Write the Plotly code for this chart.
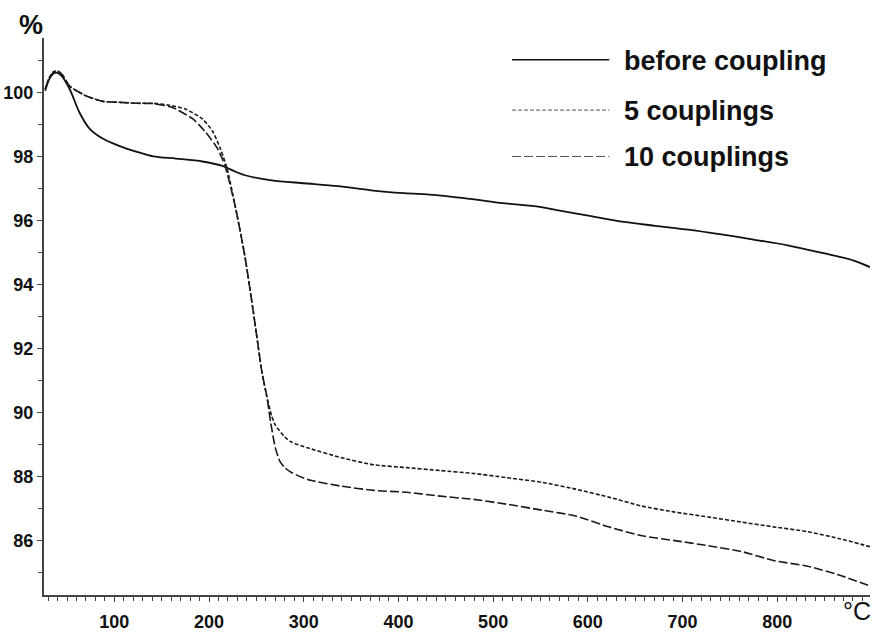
import plotly.graph_objects as go

# ---- data (temperature in °C, mass in %) ----
t_before = [27, 31, 35, 39, 44, 53, 63, 74, 88, 105, 123, 141, 165, 193, 214, 228, 238, 266, 301,
            336, 371, 406, 440, 476, 510, 549, 566, 602, 636, 671, 706, 741, 775, 811, 845, 880, 898]
w_before = [100.05, 100.4, 100.57, 100.62, 100.52, 100.09, 99.38, 98.86, 98.55, 98.33, 98.15, 98.0,
            97.93, 97.84, 97.7, 97.52, 97.41, 97.25, 97.16, 97.07, 96.94, 96.85, 96.79, 96.67,
            96.54, 96.42, 96.33, 96.14, 95.96, 95.83, 95.71, 95.56, 95.4, 95.22, 95.0, 94.75, 94.54]

t_5 = [27, 31, 35, 39, 44, 53, 71, 88, 105, 123, 141, 158, 175, 193, 204, 212, 219, 228, 238, 247,
       256, 261, 266, 270, 280, 287, 304, 340, 374, 409, 444, 479, 514, 552, 587, 622, 657, 692,
       727, 762, 796, 832, 866, 898]
w_5 = [100.1, 100.45, 100.63, 100.68, 100.6, 100.19, 99.88, 99.72, 99.69, 99.66, 99.66, 99.6,
       99.48, 99.17, 98.77, 98.24, 97.62, 96.39, 94.85, 93.09, 91.23, 90.5, 89.9, 89.6, 89.23,
       89.07, 88.89, 88.58, 88.36, 88.27, 88.18, 88.09, 87.96, 87.81, 87.6, 87.35, 87.07, 86.88,
       86.73, 86.57, 86.42, 86.27, 86.05, 85.8]

t_10 = [27, 31, 35, 39, 44, 53, 71, 88, 105, 123, 141, 158, 165, 183, 196, 209, 217, 228, 238, 247,
        256, 261, 265, 270, 275, 280, 287, 304, 340, 374, 409, 444, 479, 514, 552, 587, 622, 657,
        692, 727, 762, 796, 832, 866, 898]
w_10 = [100.1, 100.43, 100.6, 100.65, 100.58, 100.19, 99.88, 99.72, 99.69, 99.66, 99.65, 99.56,
        99.48, 99.17, 98.77, 98.24, 97.69, 96.39, 94.85, 93.09, 91.23, 90.5, 89.7, 88.89, 88.46,
        88.27, 88.12, 87.9, 87.69, 87.56, 87.5, 87.38, 87.28, 87.13, 86.94, 86.76, 86.42, 86.14,
        85.99, 85.83, 85.65, 85.37, 85.19, 84.91, 84.57]

series_names = ["before coupling", "5 couplings", "10 couplings"]
y_ticks = [86, 88, 90, 92, 94, 96, 98, 100]
x_ticks = [100, 200, 300, 400, 500, 600, 700, 800]

FONT = "Liberation Sans, Arial, sans-serif"
INK = "#111111"

fig = go.Figure()
fig.add_trace(go.Scatter(x=t_before, y=w_before, mode="lines", name=series_names[0],
                         line=dict(color=INK, width=1.8, shape="spline", smoothing=0.8)))
fig.add_trace(go.Scatter(x=t_5, y=w_5, mode="lines", name=series_names[1],
                         line=dict(color="#1a1a1a", width=1.6, dash="4px,2px", shape="spline", smoothing=0.6)))
fig.add_trace(go.Scatter(x=t_10, y=w_10, mode="lines", name=series_names[2],
                         line=dict(color="#1a1a1a", width=1.6, dash="9px,3px", shape="spline", smoothing=0.6)))

# ---- legend drawn as lines + text (long samples as in the original) ----
PL, PR, PT, PB = 37, 870, 38, 602
def px_x(p):
    return (p - PL) / (PR - PL)
def px_y(p):
    return (PB - p) / (PB - PT)

legend_rows = [(60, None, 1.5, INK), (111, "4px,2px", 1.0, "#555555"), (158, "9px,3px", 1.0, "#555555")]
for (ly, dash, w, c), name in zip(legend_rows, series_names):
    fig.add_shape(type="line", xref="paper", yref="paper",
                  x0=px_x(509), x1=px_x(607), y0=px_y(ly), y1=px_y(ly),
                  line=dict(color=c, width=w, dash=dash if dash else "solid"))
    fig.add_annotation(xref="paper", yref="paper", x=px_x(620), y=px_y(ly + 1),
                       xanchor="left", yanchor="middle", showarrow=False,
                       text="<b>" + name + "</b>", font=dict(family=FONT, size=27, color=INK))

fig.add_annotation(xref="paper", yref="paper", x=px_x(24), y=px_y(25), xanchor="center",
                   yanchor="middle", showarrow=False, text="<b>%</b>",
                   font=dict(family=FONT, size=27, color=INK))
fig.add_annotation(xref="paper", yref="paper", x=px_x(873), y=px_y(634), xanchor="right",
                   yanchor="bottom", showarrow=False, text="°C",
                   font=dict(family=FONT, size=25, color=INK))

axis_common = dict(showgrid=False, zeroline=False, showline=True, linecolor="#444444",
                   linewidth=2, ticks="outside", ticklen=5, tickwidth=1.2, tickcolor="#444444",
                   tickfont=dict(family=FONT, size=18, color=INK, weight="bold"))

fig.update_xaxes(range=[25.7, 898], tickvals=x_ticks, ticktext=[str(v) for v in x_ticks],
                 minor=dict(dtick=10, tick0=0, ticks="outside", ticklen=4, tickcolor="#444444", tickwidth=1),
                 ticklabelstandoff=4, **axis_common)
fig.update_yaxes(range=[84.29, 101.7], tickvals=y_ticks, ticktext=[str(v) for v in y_ticks],
                 minor=dict(dtick=1, tick0=0, ticks="outside", ticklen=4, tickcolor="#444444", tickwidth=1),
                 **axis_common)

fig.update_layout(width=873, height=635, margin=dict(l=PL, r=873 - PR, t=PT, b=635 - PB),
                  paper_bgcolor="white", plot_bgcolor="white", showlegend=False)

fig.write_html("out.html")
